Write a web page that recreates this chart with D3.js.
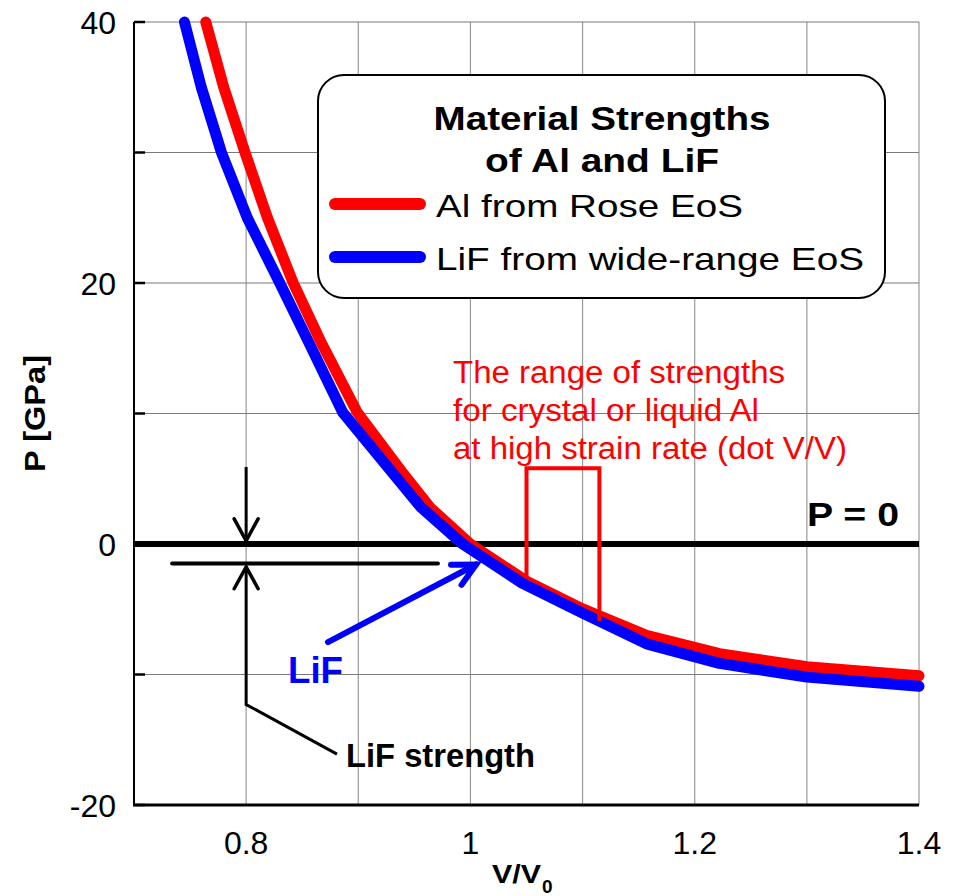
<!DOCTYPE html>
<html>
<head>
<meta charset="utf-8">
<script src="https://cdn.jsdelivr.net/npm/d3@7"></script>
<style>
body { margin: 0; background: #fff; }
svg text { font-family: Arial, "Liberation Sans", sans-serif; }
</style>
</head>
<body>
<div id="c"></div>
<script>
"use strict";

// Al (Rose EoS) curve
const alV = [0.764, 0.780, 0.799, 0.819, 0.842, 0.866, 0.899, 0.940, 0.964, 1.0, 1.05, 1.10, 1.157, 1.222, 1.3, 1.4]
const alP = [40, 35, 30, 25, 20, 15.6, 10.1, 5.4, 2.8, 0, -2.85, -4.97, -7.0, -8.4, -9.4, -10.1]

// LiF (wide-range EoS) curve
const lifV = [0.745, 0.760, 0.778, 0.801, 0.830, 0.855, 0.886, 0.931, 0.956, 0.993, 1.046, 1.10, 1.157, 1.222, 1.3, 1.4]
const lifP = [40, 35, 30, 25, 20, 15.6, 10.1, 5.4, 2.8, 0, -3.0, -5.3, -7.65, -9.15, -10.2, -10.9]

// ticks / grid
const xTicks = [0.8, 1, 1.2, 1.4]
const yTicks = [-20, 0, 20, 40]
const xGrid = [0.8, 0.9, 1.0, 1.1, 1.2, 1.3, 1.4]
const yGrid = [-10, 0, 10, 20, 30, 40]

// annotations
const bracketV = [1.05, 1.05, 1.115, 1.115]
const bracketP = [-2.6, 5.8, 5.8, -5.9]
const strengthV = [0.734, 0.971]
const strengthP = [-1.5, -1.5]
const downArrow = {v: 0.8, from: 5.9, to: 0.25}
const upArrowV = [0.8, 0.8, 0.881]
const upArrowP = [-1.75, -12.3, -16.1]
const lifArrowV = [0.873, 1.005]
const lifArrowP = [-7.52, -1.57]

const legendTitle = ["Material Strengths", "of Al and LiF"]
const legendNames = ["Al from Rose EoS", "LiF from wide-range EoS"]
const legendColors = ["#ff0000", "#0000ff"]
const noteLines = ["The range of strengths", "for crystal or liquid Al", "at high strain rate (dot V/V)"]

const W = 959, H = 896
const svg = d3.select('#c').append('svg').attr('width', W).attr('height', H)

const xScale = d3.scaleLinear().domain([0.7, 1.4]).range([134, 919])
const yScale = d3.scaleLinear().domain([-20, 40]).range([805, 22])

// grid
svg.append('g').selectAll('line').data(xGrid).enter().append('line')
    .attr('x1', d => xScale(d)).attr('x2', d => xScale(d))
    .attr('y1', yScale(40)).attr('y2', yScale(-20))
    .attr('stroke', '#9a9a9a').attr('stroke-width', 1.2)
svg.append('g').selectAll('line').data(yGrid).enter().append('line')
    .attr('x1', xScale(0.7)).attr('x2', xScale(1.4))
    .attr('y1', d => yScale(d)).attr('y2', d => yScale(d))
    .attr('stroke', '#7a7a7a').attr('stroke-width', 1.2)

// axes
svg.append('line')
    .attr('x1', xScale(0.7)).attr('x2', xScale(0.7))
    .attr('y1', yScale(40)).attr('y2', yScale(-20))
    .attr('stroke', '#000').attr('stroke-width', 2)
svg.append('line')
    .attr('x1', xScale(0.7) - 1).attr('x2', xScale(1.4))
    .attr('y1', yScale(-20)).attr('y2', yScale(-20))
    .attr('stroke', '#000').attr('stroke-width', 3)
svg.append('g').selectAll('line').data(yGrid.concat([-20])).enter().append('line')
    .attr('x1', xScale(0.7)).attr('x2', xScale(0.7) + 11)
    .attr('y1', d => yScale(d)).attr('y2', d => yScale(d))
    .attr('stroke', '#000').attr('stroke-width', 2.5)

svg.append('g').selectAll('text').data(yTicks).enter().append('text')
    .attr('x', 116).attr('y', d => yScale(d) + 12)
    .attr('text-anchor', 'end').style('font-size', '32px')
    .text(d => d)
svg.append('g').selectAll('text').data(xTicks).enter().append('text')
    .attr('x', d => xScale(d)).attr('y', 854)
    .attr('text-anchor', 'middle').style('font-size', '32px')
    .text(d => d)

svg.append('text')
    .attr('transform', 'translate(45,' + yScale(10) + ') rotate(-90)')
    .attr('text-anchor', 'middle')
    .style('font-size', '30px').style('font-weight', 'bold')
    .attr('textLength', 117).attr('lengthAdjust', 'spacingAndGlyphs')
    .text('P [GPa]')

svg.append('text').attr('x', 492).attr('y', 883)
    .style('font-size', '26px').style('font-weight', 'bold')
    .attr('textLength', 49).attr('lengthAdjust', 'spacingAndGlyphs')
    .text('V/V')
svg.append('text').attr('x', 542).attr('y', 893)
    .style('font-size', '19px').style('font-weight', 'bold')
    .text('0')

// P = 0 line
svg.append('line')
    .attr('x1', xScale(0.7)).attr('x2', xScale(1.4))
    .attr('y1', yScale(0)).attr('y2', yScale(0))
    .attr('stroke', '#000').attr('stroke-width', 6)
svg.append('text').attr('x', 807).attr('y', 526)
    .style('font-size', '34px').style('font-weight', 'bold')
    .attr('textLength', 92).attr('lengthAdjust', 'spacingAndGlyphs')
    .text('P = 0')

// curves
const line = d3.line().x(d => xScale(d[0])).y(d => yScale(d[1]))
function drawCurve(vs, ps, color) {
    svg.append('path')
        .datum(d3.zip(vs, ps))
        .attr('fill', 'none')
        .attr('stroke', color)
        .attr('stroke-width', 11)
        .attr('stroke-linecap', 'round')
        .attr('stroke-linejoin', 'round')
        .attr('d', line)
}
drawCurve(alV, alP, legendColors[0])
drawCurve(lifV, lifP, legendColors[1])

// red bracket and note
svg.append('path')
    .datum(d3.zip(bracketV, bracketP))
    .attr('fill', 'none').attr('stroke', '#ff0000').attr('stroke-width', 4)
    .attr('d', line)
const noteLen = [332, 306, 394]
svg.append('g').selectAll('text').data(noteLines).enter().append('text')
    .attr('x', 453).attr('y', (d, i) => 383 + i * 38)
    .attr('fill', '#ff0000').style('font-size', '31px')
    .attr('textLength', (d, i) => noteLen[i]).attr('lengthAdjust', 'spacingAndGlyphs')
    .text(d => d)

// arrowhead helper: open V at the tip
function arrowHead(g, x0, y0, x1, y1, len, ang, color, width) {
    const a = Math.atan2(y0 - y1, x0 - x1)
    const pts = [
        [x1 + len * Math.cos(a + ang), y1 + len * Math.sin(a + ang)],
        [x1, y1],
        [x1 + len * Math.cos(a - ang), y1 + len * Math.sin(a - ang)]
    ]
    g.append('path').attr('d', d3.line()(pts))
        .attr('fill', 'none').attr('stroke', color).attr('stroke-width', width)
        .attr('stroke-linecap', 'round').attr('stroke-linejoin', 'miter')
}

// LiF strength marks (black)
const ann = svg.append('g')
ann.append('path').datum(d3.zip(strengthV, strengthP))
    .attr('d', line).attr('stroke', '#000').attr('stroke-width', 4)
    .attr('stroke-linecap', 'round').attr('fill', 'none')
const dx = xScale(downArrow.v)
ann.append('line').attr('x1', dx).attr('x2', dx)
    .attr('y1', yScale(downArrow.from)).attr('y2', yScale(downArrow.to))
    .attr('stroke', '#000').attr('stroke-width', 3)
arrowHead(ann, dx, yScale(downArrow.from), dx, yScale(downArrow.to), 25, 0.5, '#000', 3.5)
ann.append('path').datum(d3.zip(upArrowV, upArrowP))
    .attr('d', line).attr('stroke', '#000').attr('stroke-width', 3).attr('fill', 'none')
arrowHead(ann, dx, yScale(upArrowP[1]), dx, yScale(upArrowP[0]), 25, 0.5, '#000', 3.5)
ann.append('text').attr('x', 346).attr('y', 767)
    .style('font-size', '33px').style('font-weight', 'bold')
    .attr('textLength', 189).attr('lengthAdjust', 'spacingAndGlyphs')
    .text('LiF strength')

// LiF arrow (blue)
const bx0 = xScale(lifArrowV[0]), by0 = yScale(lifArrowP[0])
const bx1 = xScale(lifArrowV[1]), by1 = yScale(lifArrowP[1])
ann.append('line').attr('x1', bx0).attr('y1', by0).attr('x2', bx1).attr('y2', by1)
    .attr('stroke', '#0000ff').attr('stroke-width', 6).attr('stroke-linecap', 'round')
arrowHead(ann, bx0, by0, bx1, by1, 25, 0.47, '#0000ff', 6)
ann.append('text').attr('x', 288).attr('y', 683)
    .attr('fill', '#0000ff')
    .style('font-size', '36px').style('font-weight', 'bold')
    .attr('textLength', 55).attr('lengthAdjust', 'spacingAndGlyphs')
    .text('LiF')

// legend box
const lg = svg.append('g')
lg.append('rect')
    .attr('x', 318).attr('y', 75).attr('width', 567).attr('height', 223)
    .attr('rx', 26).attr('ry', 26)
    .attr('fill', '#fff').attr('stroke', '#000').attr('stroke-width', 2)
const titleLen = [337, 234]
lg.selectAll('text.title').data(legendTitle).enter().append('text')
    .attr('class', 'title')
    .attr('x', 602).attr('y', (d, i) => 130 + i * 42)
    .attr('text-anchor', 'middle')
    .style('font-size', '34px').style('font-weight', 'bold')
    .attr('textLength', (d, i) => titleLen[i]).attr('lengthAdjust', 'spacingAndGlyphs')
    .text(d => d)
const itemLen = [307, 428]
legendNames.forEach((name, i) => {
    const y = 204 + i * 53
    lg.append('line').attr('x1', 335).attr('x2', 420).attr('y1', y).attr('y2', y)
        .attr('stroke', legendColors[i]).attr('stroke-width', 12)
        .attr('stroke-linecap', 'round')
    lg.append('text').attr('x', 436).attr('y', y + 13)
        .style('font-size', '32px')
        .attr('textLength', itemLen[i]).attr('lengthAdjust', 'spacingAndGlyphs')
        .text(name)
})
</script>
</body>
</html>
